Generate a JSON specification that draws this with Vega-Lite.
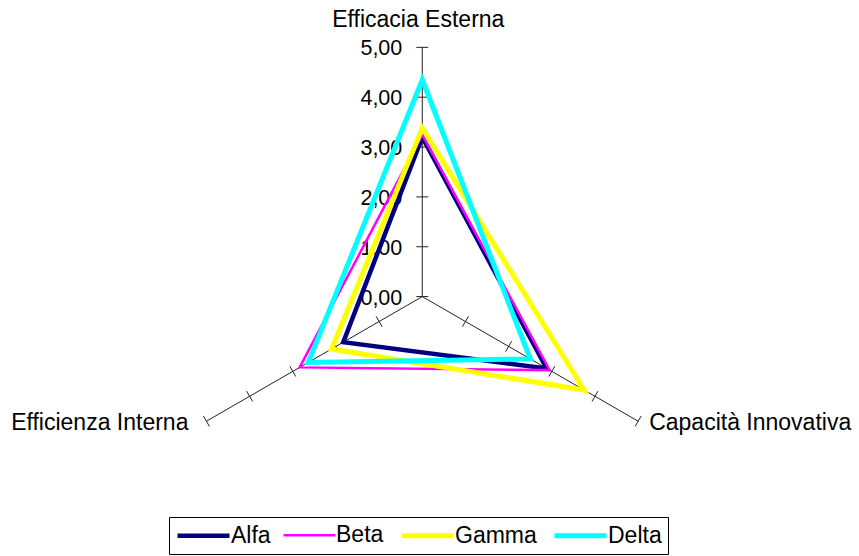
{
  "$schema": "https://vega.github.io/schema/vega-lite/v6.json",
  "width": 859,
  "height": 556,
  "autosize": {"type": "none"},
  "padding": 0,
  "background": "white",
  "config": {"view": {"stroke": null}, "font": "Liberation Sans"},
  "datasets": {
    "scores": [
      {"series": "Alfa", "axis": "Efficacia Esterna", "value": 3.2},
      {"series": "Alfa", "axis": "Capacità Innovativa", "value": 2.88},
      {"series": "Alfa", "axis": "Efficienza Interna", "value": 1.83},
      {"series": "Beta", "axis": "Efficacia Esterna", "value": 3.25},
      {"series": "Beta", "axis": "Capacità Innovativa", "value": 2.95},
      {"series": "Beta", "axis": "Efficienza Interna", "value": 2.84},
      {"series": "Gamma", "axis": "Efficacia Esterna", "value": 3.38},
      {"series": "Gamma", "axis": "Capacità Innovativa", "value": 3.75},
      {"series": "Gamma", "axis": "Efficienza Interna", "value": 2.1},
      {"series": "Delta", "axis": "Efficacia Esterna", "value": 4.35},
      {"series": "Delta", "axis": "Capacità Innovativa", "value": 2.5},
      {"series": "Delta", "axis": "Efficienza Interna", "value": 2.64}
    ],
    "axes": [
      {"axis": "Efficacia Esterna", "max": 5},
      {"axis": "Capacità Innovativa", "max": 5},
      {"axis": "Efficienza Interna", "max": 5}
    ],
    "ticks": [
      {"axis": "Efficacia Esterna", "v": 0, "label": "0,00"},
      {"axis": "Efficacia Esterna", "v": 1, "label": "1,00"},
      {"axis": "Efficacia Esterna", "v": 2, "label": "2,00"},
      {"axis": "Efficacia Esterna", "v": 3, "label": "3,00"},
      {"axis": "Efficacia Esterna", "v": 4, "label": "4,00"},
      {"axis": "Efficacia Esterna", "v": 5, "label": "5,00"},
      {"axis": "Capacità Innovativa", "v": 1, "label": ""},
      {"axis": "Capacità Innovativa", "v": 2, "label": ""},
      {"axis": "Capacità Innovativa", "v": 3, "label": ""},
      {"axis": "Capacità Innovativa", "v": 4, "label": ""},
      {"axis": "Capacità Innovativa", "v": 5, "label": ""},
      {"axis": "Efficienza Interna", "v": 1, "label": ""},
      {"axis": "Efficienza Interna", "v": 2, "label": ""},
      {"axis": "Efficienza Interna", "v": 3, "label": ""},
      {"axis": "Efficienza Interna", "v": 4, "label": ""},
      {"axis": "Efficienza Interna", "v": 5, "label": ""}
    ]
  },
  "layer": [
    {
      "data": {"name": "axes"},
      "transform": [
        {"calculate": "datum.axis == 'Efficacia Esterna' ? 0 : datum.axis == 'Capacità Innovativa' ? 2*PI/3 : 4*PI/3", "as": "ang"},
        {"calculate": "0", "as": "cx"},
        {"calculate": "datum.max * sin(datum.ang)", "as": "ex"},
        {"calculate": "datum.max * cos(datum.ang)", "as": "ey"}
      ],
      "mark": {"type": "rule", "color": "#222222", "strokeWidth": 1},
      "encoding": {
        "x": {"field": "cx", "type": "quantitative", "scale": {"domain": [-8.471, 8.76], "nice": false, "zero": false}, "axis": null},
        "y": {"field": "cx", "type": "quantitative", "scale": {"domain": [-5.204, 5.95], "nice": false, "zero": false}, "axis": null},
        "x2": {"field": "ex"},
        "y2": {"field": "ey"}
      }
    },
    {
      "data": {"name": "ticks"},
      "transform": [
        {"calculate": "datum.axis == 'Efficacia Esterna' ? 0 : datum.axis == 'Capacità Innovativa' ? 2*PI/3 : 4*PI/3", "as": "ang"},
        {"calculate": "datum.v * sin(datum.ang) - 0.12 * cos(datum.ang)", "as": "x1"},
        {"calculate": "datum.v * cos(datum.ang) + 0.12 * sin(datum.ang)", "as": "y1"},
        {"calculate": "datum.v * sin(datum.ang) + 0.12 * cos(datum.ang)", "as": "x2"},
        {"calculate": "datum.v * cos(datum.ang) - 0.12 * sin(datum.ang)", "as": "y2"}
      ],
      "mark": {"type": "rule", "color": "#222222", "strokeWidth": 1},
      "encoding": {
        "x": {"field": "x1", "type": "quantitative", "scale": {"domain": [-8.471, 8.76], "nice": false, "zero": false}, "axis": null},
        "y": {"field": "y1", "type": "quantitative", "scale": {"domain": [-5.204, 5.95], "nice": false, "zero": false}, "axis": null},
        "x2": {"field": "x2"},
        "y2": {"field": "y2"}
      }
    },
    {
      "data": {"name": "ticks"},
      "transform": [
        {"filter": "datum.label != ''"},
        {"calculate": "0", "as": "tx"}
      ],
      "mark": {"type": "text", "align": "right", "baseline": "alphabetic", "dx": -20, "dy": 8, "fontSize": 21.5, "font": "Liberation Sans", "color": "black"},
      "encoding": {
        "x": {"field": "tx", "type": "quantitative", "axis": null},
        "y": {"field": "v", "type": "quantitative", "axis": null},
        "text": {"field": "label"}
      }
    },
    {
      "data": {"name": "scores"},
      "transform": [
        {"calculate": "datum.axis == 'Efficacia Esterna' ? 0 : datum.axis == 'Capacità Innovativa' ? 2*PI/3 : 4*PI/3", "as": "ang"},
        {"calculate": "datum.value * sin(datum.ang)", "as": "px"},
        {"calculate": "datum.value * cos(datum.ang)", "as": "py"}
      ],
      "mark": {"type": "line", "interpolate": "linear-closed", "strokeJoin": "miter", "strokeMiterLimit": 20},
      "encoding": {
        "x": {"field": "px", "type": "quantitative", "axis": null},
        "y": {"field": "py", "type": "quantitative", "axis": null},
        "order": {"field": "ang", "type": "quantitative"},
        "color": {
          "field": "series", "type": "nominal",
          "scale": {"domain": ["Alfa", "Beta", "Gamma", "Delta"], "range": ["#000080", "#FF00FF", "#FFFF00", "#00FFFF"]},
          "legend": {
            "orient": "none", "legendX": 169, "legendY": 517, "direction": "horizontal", "title": null,
            "symbolType": "M-2.6,0H2.6", "symbolSize": 400, "symbolOffset": 16, "labelFontSize": 23, "labelFont": "Liberation Sans",
            "labelColor": "black", "strokeColor": "black", "fillColor": "white", "padding": 6,
            "labelOffset": 15, "columnPadding": 7, "symbolStrokeWidth": 4
          }
        },
        "strokeWidth": {
          "field": "series", "type": "nominal",
          "scale": {"type": "ordinal", "domain": ["Alfa", "Beta", "Gamma", "Delta"], "range": [4.5, 2.5, 5, 5]},
          "legend": {
            "orient": "none", "legendX": 169, "legendY": 517, "direction": "horizontal", "title": null,
            "symbolType": "M-2.6,0H2.6", "symbolSize": 400, "symbolOffset": 16, "labelFontSize": 23, "labelFont": "Liberation Sans",
            "labelColor": "black", "strokeColor": "black", "fillColor": "white", "padding": 6,
            "labelOffset": 15, "columnPadding": 7
          }
        }
      }
    },
    {
      "data": {"values": [{"label": "Efficacia Esterna", "lx": 0, "ly": 5}]},
      "mark": {"type": "text", "align": "center", "baseline": "alphabetic", "dx": -4, "dy": -20, "fontSize": 23, "font": "Liberation Sans", "color": "black"},
      "encoding": {
        "x": {"field": "lx", "type": "quantitative", "axis": null},
        "y": {"field": "ly", "type": "quantitative", "axis": null},
        "text": {"field": "label"}
      }
    },
    {
      "data": {"values": [{"label": "Capacità Innovativa", "r": 5}]},
      "transform": [
        {"calculate": "datum.r * sin(2*PI/3)", "as": "lx"},
        {"calculate": "datum.r * cos(2*PI/3)", "as": "ly"}
      ],
      "mark": {"type": "text", "align": "left", "baseline": "alphabetic", "dx": 11, "dy": 9, "fontSize": 23, "font": "Liberation Sans", "color": "black"},
      "encoding": {
        "x": {"field": "lx", "type": "quantitative", "axis": null},
        "y": {"field": "ly", "type": "quantitative", "axis": null},
        "text": {"field": "label"}
      }
    },
    {
      "data": {"values": [{"label": "Efficienza Interna", "r": 5}]},
      "transform": [
        {"calculate": "datum.r * sin(4*PI/3)", "as": "lx"},
        {"calculate": "datum.r * cos(4*PI/3)", "as": "ly"}
      ],
      "mark": {"type": "text", "align": "right", "baseline": "alphabetic", "dx": -18, "dy": 9, "fontSize": 23, "font": "Liberation Sans", "color": "black"},
      "encoding": {
        "x": {"field": "lx", "type": "quantitative", "axis": null},
        "y": {"field": "ly", "type": "quantitative", "axis": null},
        "text": {"field": "label"}
      }
    }
  ]
}
